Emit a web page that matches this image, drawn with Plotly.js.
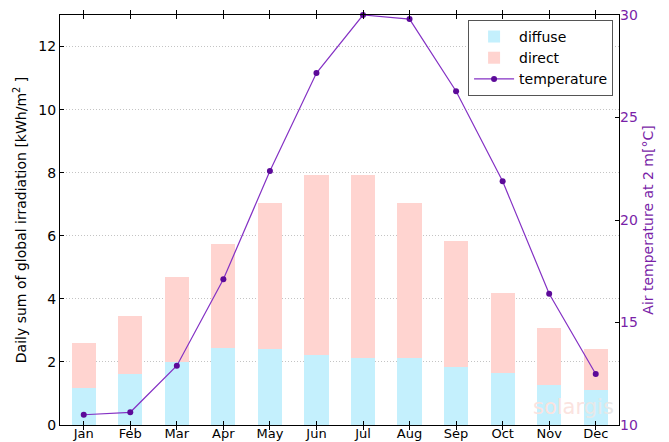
<!DOCTYPE html>
<html>
<head>
<meta charset="utf-8">
<script src="https://cdn.plot.ly/plotly-3.0.1.min.js"></script>
<style>html,body{margin:0;padding:0;background:#fff;}#chart{width:669px;height:442px;}</style>
</head>
<body>
<div id="chart"></div>
<script>
const months = ["Jan","Feb","Mar","Apr","May","Jun","Jul","Aug","Sep","Oct","Nov","Dec"];
const diffuse = [1.17,1.61,1.99,2.45,2.40,2.22,2.14,2.14,1.84,1.65,1.27,1.10];
const total = [2.60,3.46,4.70,5.75,7.05,7.94,7.92,7.05,5.84,4.20,3.09,2.40];
const direct = total.map((t,i)=>+(t-diffuse[i]).toFixed(2));
const temperature = [10.50,10.62,12.89,17.11,22.39,27.17,30.0,29.8,26.28,21.89,16.40,12.49];

const font = "DejaVu Sans, sans-serif";
const purple = "#7a1fa8";

const traces = [
  {type:"bar", name:"diffuse", x:months, y:diffuse, marker:{color:"#c4f0fd"}, yaxis:"y"},
  {type:"bar", name:"direct", x:months, y:direct, marker:{color:"#ffd4d0"}, yaxis:"y"},
  {type:"scatter", mode:"lines+markers", name:"temperature", x:months, y:temperature, yaxis:"y2",
   line:{color:"#8431c4", width:1.2}, marker:{color:"#5c0a99", size:6}, cliponaxis:false}
];

const layout = {
  width:669, height:442,
  margin:{l:60, r:50, t:15, b:17},
  paper_bgcolor:"#fff", plot_bgcolor:"#fff",
  barmode:"stack", bargap:0.48,
  font:{family:font, size:13, color:"#000"},
  showlegend:true,
  legend:{x:0.73, y:0.988, xanchor:"left", yanchor:"top", bgcolor:"#fff", bordercolor:"#555", borderwidth:1,
          font:{family:font, size:14, color:"#000"}, traceorder:"normal", tracegroupgap:2, itemwidth:40},
  xaxis:{type:"category", range:[-0.51,11.5], showline:true, linecolor:"#000", linewidth:1, mirror:"allticks",
         ticks:"inside", ticklen:4, tickcolor:"#000", showgrid:false, zeroline:false, ticklabelstandoff:-4,
         tickfont:{family:font, size:13, color:"#000"}},
  yaxis:{range:[0,13], tickvals:[0,2,4,6,8,10,12], showline:true, linecolor:"#000", linewidth:1, mirror:true,
         ticks:"inside", ticklen:4, tickcolor:"#000", showgrid:true, gridcolor:"#c4c4c4", griddash:"1px,2px", gridwidth:1,
         zeroline:false, tickfont:{family:font, size:14, color:"#000"},
         title:{text:"Daily sum of global irradiation [kWh/m<sup>2</sup> ]", font:{family:font, size:14, color:"#000"}, standoff:8}},
  yaxis2:{overlaying:"y", side:"right", range:[10,30], tickvals:[10,15,20,25,30], showgrid:false, zeroline:false,
          ticks:"inside", ticklen:4, tickcolor:"#000", showline:false,
          tickfont:{family:font, size:14, color:purple},
          title:{text:"Air temperature at 2 m[°C]", font:{family:font, size:14, color:purple}, standoff:6}},
  annotations:[
    {xref:"paper", yref:"paper", x:0.995, y:0.01, xanchor:"right", yanchor:"bottom", showarrow:false,
     text:"<span style='color:#fbe3df'>solar</span><span style='color:#e8e8e8'>gis</span>",
     font:{family:font, size:21}}
  ]
};

Plotly.newPlot("chart", traces, layout, {displayModeBar:false, staticPlot:true});
</script>
</body>
</html>
